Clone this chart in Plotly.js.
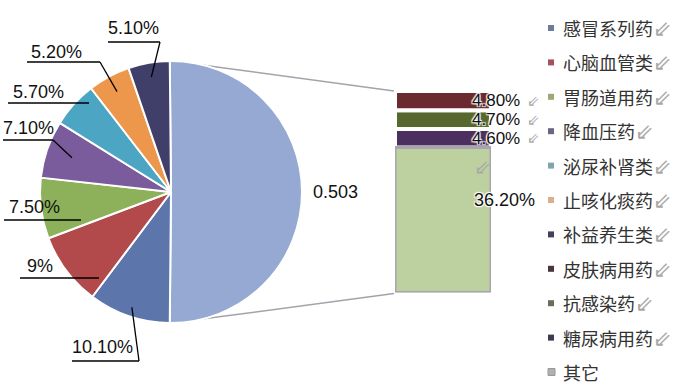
<!DOCTYPE html>
<html><head><meta charset="utf-8">
<script src="https://cdn.plot.ly/plotly-3.0.1.min.js"></script>
<style>html,body{margin:0;padding:0;background:#fff;}#chart{width:680px;height:387px;}</style>
</head><body><div id="chart"></div>
<script>
// ---------- data ----------
const pieLabels = ['其它合计', '感冒系列药', '心脑血管类', '胃肠道用药', '降血压药', '泌尿补肾类', '止咳化痰药', '补益养生类'];
const pieValues = [50.3, 10.1, 9, 7.5, 7.1, 5.7, 5.2, 5.1];
const pieText = ['0.503', '10.10%', '9%', '7.50%', '7.10%', '5.70%', '5.20%', '5.10%'];
// bar of pie, bottom to top
const barLabels = ['其它', '糖尿病用药', '抗感染药', '皮肤病用药'];
const barValues = [36.2, 4.6, 4.7, 4.8];
const barText = ['36.20%', '4.60%', '4.70%', '4.80%'];
const legendLabels = ['感冒系列药', '心脑血管类', '胃肠道用药', '降血压药', '泌尿补肾类', '止咳化痰药', '补益养生类', '皮肤病用药', '抗感染药', '糖尿病用药', '其它'];

// ---------- styles ----------
const pieColors = ['#95A9D3', '#5C75AA', '#B24A4C', '#8DB05A', '#7A5C9C', '#4CA5C2', '#EC974C', '#3F3F69'];
const barColors = ['#BDD09F', '#4B305F', '#56682D', '#6B2A2F'];
const legendColors = ['#6D7C99', '#A45157', '#9BAA72', '#6B6782', '#7FA6AF', '#D8B089', '#40415A', '#4B3539', '#6B6D5B', '#3F3A4F', '#B0B0B0'];

const W = 680, H = 387;
const cx = 171, cy = 192, R = 131;          // pie geometry (px)
const barBox = {x0: 395, x1: 491, top: 91, bottom: 292.5};
const px = x => x / W, py = y => 1 - y / H;
const numFont = {family: 'Liberation Sans, Arial, sans-serif', size: 18, color: '#111'};
const barFont = {family: 'Liberation Sans, Arial, sans-serif', size: 17, color: '#111'};
const cjkFont = {family: 'Noto Sans CJK SC, sans-serif', size: 18, color: '#333'};
const arrowFont = {family: 'DejaVu Sans', size: 15, color: '#a8a8a8'};
const ARROW = '<span style="color:#a8a8a8;font-family:DejaVu Sans;font-size:22px">⇙</span>';

// label placement (px): text centre, underline, anchor fraction of radius
const labelLayout = {
  1: {tx: 102, ty: 347, ux0: 72, ux1: 139, uy: 361, k: 0.93},
  2: {tx: 40,  ty: 266, ux0: 20, ux1: 99,  uy: 278, k: null},
  3: {tx: 34,  ty: 207, ux0: 4,  ux1: 81,  uy: 220, k: null},
  4: {tx: 28,  ty: 128, ux0: 3,  ux1: 53,  uy: 140, k: 0.80},
  5: {tx: 38,  ty: 92,  ux0: 8,  ux1: 89,  uy: 103, k: null},
  6: {tx: 56,  ty: 52,  ux0: 27, ux1: 100, uy: 62,  k: 0.87},
  7: {tx: 133, ty: 28,  ux0: 108, ux1: 160, uy: 42, k: 0.89}
};

// ---------- geometry from data ----------
const total = pieValues.reduce((a, b) => a + b, 0);
const rotation = 90 - pieValues[0] / total * 180;   // aggregate slice centred at 3 o'clock
const starts = [], ends = [], mids = [];
let acc = rotation;
pieValues.forEach(v => { const a = v / total * 360; starts.push(acc); ends.push(acc + a); mids.push(acc + a / 2); acc += a; });
function pt(deg, r) { const t = deg * Math.PI / 180; return [cx + r * Math.sin(t), cy - r * Math.cos(t)]; }

const barTotal = barValues.reduce((a, b) => a + b, 0);
const bases = []; let b0 = 0; barValues.forEach(v => { bases.push(b0); b0 += v; });

const traces = [];
traces.push({
  type: 'pie', values: pieValues, labels: pieLabels, sort: false, direction: 'clockwise',
  rotation: rotation, textinfo: 'none', hoverinfo: 'label+percent', showlegend: false,
  marker: {colors: pieColors, line: {color: '#ffffff', width: 2}},
  domain: {x: [px(cx - R), px(cx + R)], y: [py(cy + R), py(cy - R)]}
});
// small segments first, "其它" last so its grey border stays on top
const order = [1, 2, 3, 0];
order.forEach(i => {
  traces.push({
    type: 'bar', x: [0], y: [barValues[i]], base: [bases[i]], width: [1], name: barLabels[i],
    marker: {color: barColors[i], line: i === 0 ? {color: '#A9A5AE', width: 3} : {color: '#ffffff', width: 4}},
    showlegend: false, hoverinfo: 'name+y'
  });
});

const shapes = [], annotations = [];
// connector lines pie -> bar
const tStart = pt(starts[0] + 15, R), bStart = pt(ends[0] - 15, R);
shapes.push({type: 'line', xref: 'paper', yref: 'paper', x0: px(tStart[0]), y0: py(tStart[1]), x1: px(barBox.x0 - 1), y1: py(barBox.top), line: {color: '#A3A3AB', width: 1.5}, layer: 'below'});
shapes.push({type: 'line', xref: 'paper', yref: 'paper', x0: px(bStart[0]), y0: py(bStart[1]), x1: px(barBox.x0 - 1), y1: py(barBox.bottom + 1), line: {color: '#A3A3AB', width: 1.5}, layer: 'below'});

// aggregate slice label
const aggPos = pt(mids[0], R + 9);
annotations.push({xref: 'paper', yref: 'paper', x: px(aggPos[0]), y: py(aggPos[1]), xanchor: 'left', yanchor: 'middle', text: pieText[0], showarrow: false, font: numFont});

// slice labels with underline + leader
for (let i = 1; i < pieValues.length; i++) {
  const L = labelLayout[i];
  annotations.push({xref: 'paper', yref: 'paper', x: px(L.tx), y: py(L.ty), xanchor: 'center', yanchor: 'middle', text: pieText[i], showarrow: false, font: numFont});
  shapes.push({type: 'line', xref: 'paper', yref: 'paper', x0: px(L.ux0), y0: py(L.uy), x1: px(L.ux1), y1: py(L.uy), line: {color: '#000', width: 1.3}});
  if (L.k !== null) {
    const a = pt(mids[i], L.k * R);
    shapes.push({type: 'line', xref: 'paper', yref: 'paper', x0: px(L.ux1), y0: py(L.uy), x1: px(a[0]), y1: py(a[1]), line: {color: '#000', width: 1.3}});
  }
}

// bar labels
const halo = '1px 1px 1px #fff, -1px -1px 1px #fff, 1px -1px 1px #fff, -1px 1px 1px #fff';
for (let i = 1; i < barValues.length; i++) {
  const yv = bases[i] + barValues[i] / 2;
  annotations.push({xref: 'paper', yref: 'y', x: px(470), y: yv, xanchor: 'left', yanchor: 'middle',
    text: barText[i], showarrow: false, font: Object.assign({}, barFont, {shadow: halo})});
  annotations.push({xref: 'paper', yref: 'y', x: px(525), y: yv, xanchor: 'left', yanchor: 'middle',
    text: '⇙', showarrow: false, font: arrowFont});
}
annotations.push({xref: 'paper', yref: 'y', x: px(472), y: bases[0] + barValues[0] / 2, yshift: 20, xanchor: 'left', yanchor: 'middle',
  text: barText[0], showarrow: false, font: Object.assign({}, numFont, {shadow: halo})});
annotations.push({xref: 'paper', yref: 'y', x: px(472), y: bases[0] + barValues[0] / 2, yshift: 53, xanchor: 'left', yanchor: 'middle',
  text: '⇙', showarrow: false, font: Object.assign({}, arrowFont, {size: 20})});

// legend (markers + text)
const legX = 548, legY0 = 28, legStep = 34.4;
legendLabels.forEach((lab, i) => {
  const y = legY0 + i * legStep;
  const last = i === legendLabels.length - 1;
  const s = last ? 7 : 6;
  shapes.push({type: 'rect', xref: 'paper', yref: 'paper', x0: px(legX), x1: px(legX + s), y0: py(y + s / 2), y1: py(y - s / 2),
    fillcolor: legendColors[i], line: {width: last ? 1 : 0, color: '#999'}});
  annotations.push({xref: 'paper', yref: 'paper', x: px(legX + 13), y: py(y), xanchor: 'left', yanchor: 'middle',
    text: lab + (last ? '' : ARROW), showarrow: false, font: cjkFont});
});

const layout = {
  width: W, height: H, margin: {l: 0, r: 0, t: 0, b: 0},
  paper_bgcolor: '#ffffff', plot_bgcolor: 'rgba(0,0,0,0)',
  barmode: 'overlay', showlegend: false,
  xaxis: {domain: [px(barBox.x0), px(barBox.x1)], range: [-0.5, 0.5], visible: false, fixedrange: true},
  yaxis: {domain: [py(barBox.bottom), py(barBox.top)], range: [0, barTotal], visible: false, fixedrange: true},
  shapes: shapes, annotations: annotations
};
Plotly.newPlot('chart', traces, layout, {displayModeBar: false, staticPlot: true});
</script>
</body></html>
